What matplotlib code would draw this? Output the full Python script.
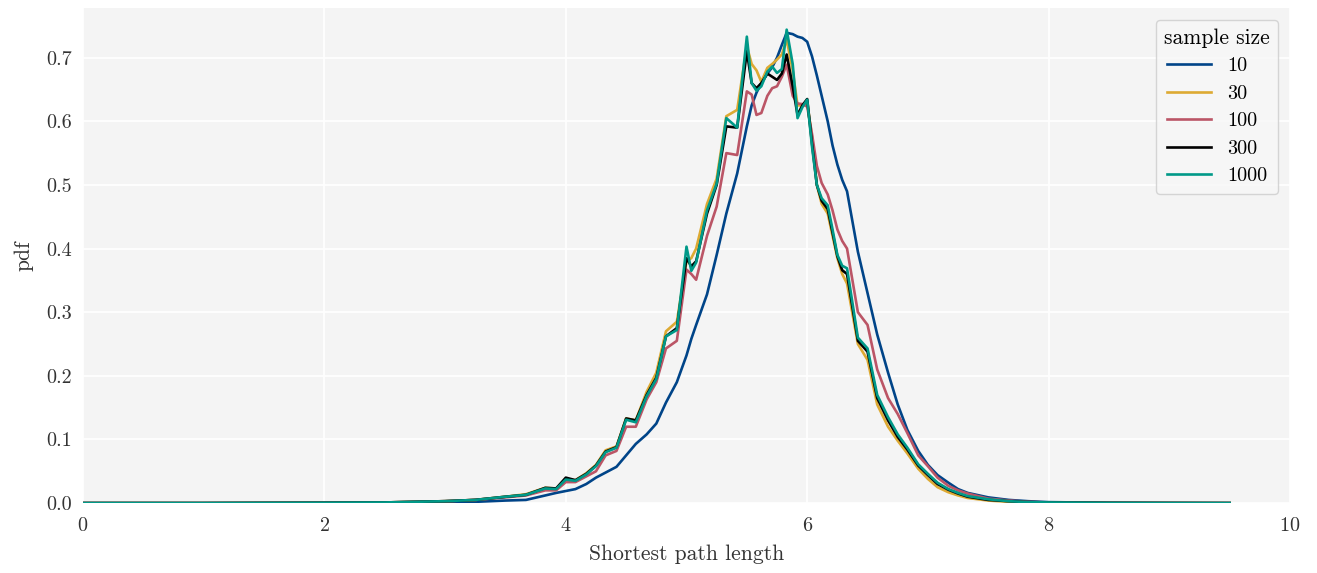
import matplotlib
matplotlib.use("Agg")
import matplotlib.pyplot as plt

plt.rcParams['font.family'] = 'serif'
plt.rcParams['font.serif'] = ['cmr10', 'DejaVu Serif']
plt.rcParams['axes.formatter.use_mathtext'] = True
plt.rcParams['mathtext.fontset'] = 'cm'

x = [0, 1, 2, 2.5, 3.0, 3.25, 3.5, 3.67, 3.83, 3.92, 4.0, 4.08, 4.17, 4.25, 4.33,
     4.42, 4.5, 4.58, 4.67, 4.75, 4.83, 4.92, 5.0, 5.04, 5.08, 5.17, 5.25, 5.33,
     5.42, 5.5, 5.54, 5.58, 5.62, 5.67, 5.71, 5.75, 5.79, 5.83, 5.88, 5.92, 5.96,
     6.0, 6.04, 6.08, 6.12, 6.17, 6.21, 6.25, 6.29, 6.33, 6.42, 6.5, 6.58, 6.67,
     6.75, 6.83, 6.92, 7.0, 7.08, 7.17, 7.25, 7.33, 7.5, 7.67, 7.83, 8.0, 8.5,
     9.0, 9.5]

y10 = [0, 0, 0.0003, 0.0006, 0.001, 0.002, 0.004, 0.005, 0.012, 0.016, 0.019, 0.022,
       0.030, 0.040, 0.048, 0.057, 0.075, 0.093, 0.108, 0.125, 0.158, 0.190, 0.232,
       0.258, 0.280, 0.328, 0.390, 0.455, 0.518, 0.592, 0.625, 0.645, 0.660, 0.675,
       0.685, 0.700, 0.720, 0.739, 0.737, 0.733, 0.731, 0.725, 0.702, 0.672, 0.640,
       0.600, 0.562, 0.532, 0.508, 0.490, 0.395, 0.330, 0.265, 0.205, 0.155, 0.115,
       0.082, 0.060, 0.044, 0.032, 0.022, 0.016, 0.009, 0.005, 0.003, 0.0015,
       0.0005, 0.0002, 0]

y30 = [0, 0, 0.0005, 0.001, 0.003, 0.005, 0.010, 0.014, 0.024, 0.023, 0.037, 0.036,
       0.047, 0.060, 0.083, 0.089, 0.133, 0.130, 0.175, 0.205, 0.270, 0.285, 0.380,
       0.385, 0.400, 0.470, 0.510, 0.608, 0.618, 0.718, 0.690, 0.680, 0.662, 0.684,
       0.690, 0.697, 0.705, 0.728, 0.680, 0.625, 0.625, 0.630, 0.575, 0.500, 0.470,
       0.455, 0.420, 0.385, 0.360, 0.345, 0.250, 0.225, 0.155, 0.120, 0.098, 0.078,
       0.054, 0.038, 0.025, 0.017, 0.012, 0.008, 0.004, 0.002, 0.001, 0.0007,
       0.0002, 0.0001, 0]

y100 = [0, 0, 0.0005, 0.001, 0.003, 0.005, 0.009, 0.012, 0.020, 0.020, 0.033, 0.033,
        0.042, 0.050, 0.075, 0.082, 0.120, 0.120, 0.163, 0.190, 0.243, 0.255, 0.367,
        0.360, 0.351, 0.420, 0.466, 0.550, 0.547, 0.647, 0.642, 0.610, 0.613, 0.640,
        0.652, 0.655, 0.670, 0.689, 0.640, 0.628, 0.627, 0.623, 0.580, 0.530, 0.503,
        0.485, 0.460, 0.430, 0.412, 0.400, 0.300, 0.280, 0.210, 0.165, 0.140, 0.110,
        0.075, 0.058, 0.040, 0.027, 0.020, 0.015, 0.007, 0.004, 0.002, 0.001,
        0.0004, 0.0002, 0]

y300 = [0, 0, 0.0005, 0.001, 0.003, 0.005, 0.010, 0.013, 0.024, 0.023, 0.040, 0.036,
        0.046, 0.059, 0.081, 0.088, 0.133, 0.130, 0.170, 0.197, 0.262, 0.275, 0.385,
        0.372, 0.380, 0.455, 0.500, 0.592, 0.590, 0.710, 0.660, 0.652, 0.660, 0.675,
        0.670, 0.665, 0.675, 0.705, 0.655, 0.610, 0.625, 0.635, 0.565, 0.500, 0.475,
        0.462, 0.425, 0.388, 0.366, 0.360, 0.255, 0.238, 0.165, 0.130, 0.104, 0.084,
        0.059, 0.044, 0.030, 0.021, 0.015, 0.010, 0.005, 0.003, 0.0015, 0.001,
        0.0003, 0.0001, 0]

y1000 = [0, 0, 0.0005, 0.001, 0.003, 0.005, 0.010, 0.013, 0.023, 0.022, 0.037, 0.035,
         0.045, 0.058, 0.080, 0.087, 0.131, 0.127, 0.168, 0.195, 0.262, 0.272, 0.403,
         0.365, 0.378, 0.460, 0.502, 0.605, 0.590, 0.733, 0.660, 0.648, 0.655, 0.678,
         0.686, 0.676, 0.682, 0.744, 0.690, 0.605, 0.622, 0.634, 0.560, 0.500, 0.479,
         0.468, 0.430, 0.390, 0.373, 0.369, 0.260, 0.243, 0.170, 0.135, 0.108, 0.087,
         0.061, 0.046, 0.032, 0.022, 0.016, 0.011, 0.006, 0.003, 0.0015, 0.001,
         0.0003, 0.0001, 0]

labels = ['10', '30', '100', '300', '1000']
colors = ['#004488', '#DDAA33', '#BB5566', '#000000', '#009988']
series = [y10, y30, y100, y300, y1000]

fig = plt.figure(figsize=(13.17, 5.73), dpi=100)
ax = fig.add_axes([0.063, 0.122, 0.9165, 0.864])
ax.set_facecolor('#f4f4f4')
for s in ax.spines.values():
    s.set_visible(False)
ax.grid(True, color='white', linewidth=1.2)
ax.set_axisbelow(True)
ax.tick_params(axis='x', length=0, labelsize=14.5, colors='#333333', pad=10)
ax.tick_params(axis='y', length=0, labelsize=14.5, colors='#333333', pad=8)

for ys, lab, c in zip(series, labels, colors):
    ax.plot(x, ys, color=c, lw=1.9, label=lab)

ax.set_xlim(0, 10)
ax.set_ylim(0, 0.778)
ax.set_xticks([0, 2, 4, 6, 8, 10])
ax.set_yticks([0.0, 0.1, 0.2, 0.3, 0.4, 0.5, 0.6, 0.7])
ax.set_yticklabels(['0.0', '0.1', '0.2', '0.3', '0.4', '0.5', '0.6', '0.7'])
ax.set_xlabel('Shortest path length', fontsize=15.5, color='#333333', labelpad=7)
ax.set_ylabel('pdf', fontsize=15.5, color='#333333', labelpad=9)

leg = ax.legend(title='sample size', loc='upper right', fontsize=14.5,
                title_fontsize=15.5, frameon=True, fancybox=True,
                borderaxespad=0.6, handlelength=2.2, labelspacing=0.47)
leg.get_frame().set_facecolor('#f7f7f7')
leg.get_frame().set_edgecolor('#cccccc')

fig.savefig('out.png', dpi=100)
